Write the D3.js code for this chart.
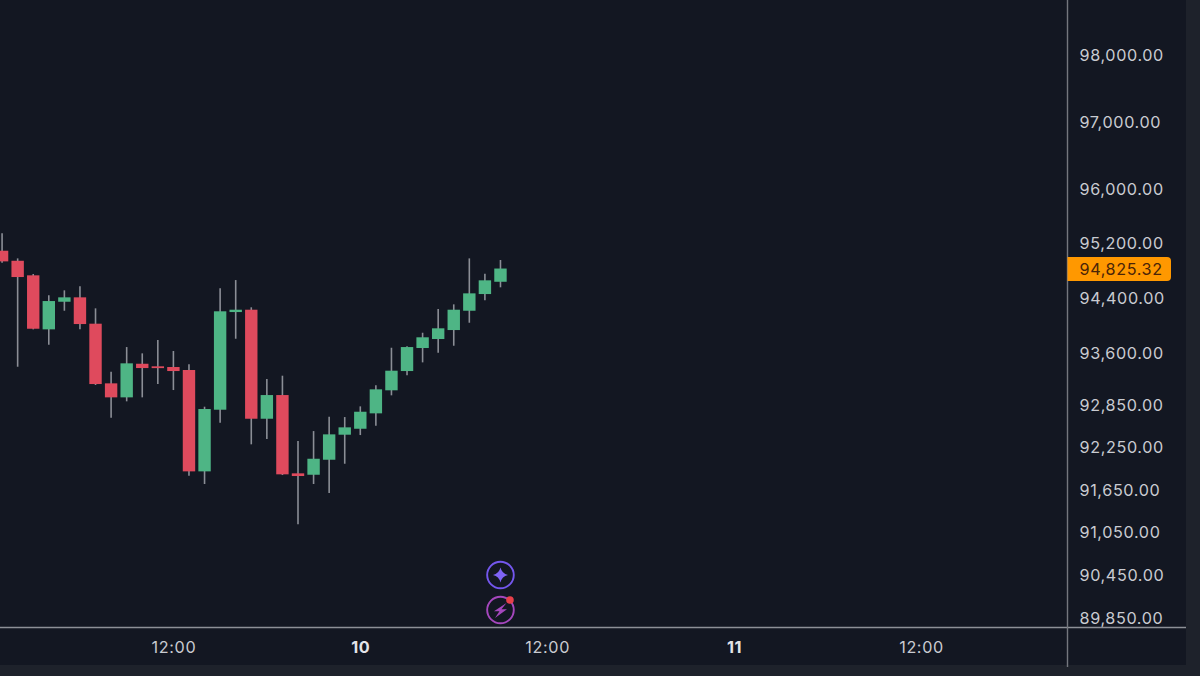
<!DOCTYPE html>
<html>
<head>
<meta charset="utf-8">
<script src="https://cdn.jsdelivr.net/npm/d3@7"></script>
<style>
  html, body { margin: 0; padding: 0; background: #1e222b; }
  svg { display: block; }
  text { font-family: Inter, "Noto Sans", sans-serif; }
</style>
</head>
<body>
<div id="chart"></div>
<script>
// hourly candles, 9 Jan 01:00 to 10 Jan 09:00
const firstHour = Date.UTC(2025, 0, 9, 1)
const opens = [95086, 94939, 94726, 93940, 94341, 94405, 94022, 93161, 92960, 93443, 93406, 93396, 93353, 91905, 92783, 94191, 94225, 92654, 92993, 91877, 91857, 92070, 92426, 92511, 92731, 93061, 93338, 93670, 93800, 93930, 94210, 94453, 94632]
const highs = [95341, 94974, 94745, 94434, 94507, 94565, 94245, 93328, 93684, 93593, 93785, 93627, 93435, 92826, 94536, 94657, 94260, 93223, 93271, 92336, 92478, 92683, 92678, 92831, 93132, 93674, 93694, 93891, 94235, 94303, 94974, 94749, 94950]
const lows = [94910, 93400, 93940, 93718, 94210, 93940, 93137, 92668, 92903, 92960, 93151, 93065, 91843, 91726, 92597, 93804, 92289, 92364, 91853, 91157, 91726, 91598, 92013, 92421, 92554, 92989, 93276, 93463, 93602, 93703, 94036, 94361, 94551]
const closes = [94930, 94701, 93949, 94351, 94405, 94017, 93151, 92960, 93449, 93381, 93381, 93338, 91905, 92793, 94202, 94225, 92654, 92993, 91863, 91839, 92084, 92431, 92531, 92754, 93075, 93343, 93684, 93825, 93955, 94225, 94463, 94653, 94825.32]

const priceTicks = [98000, 97000, 96000, 95200, 94400, 93600, 92850, 92250, 91650, 91050, 90450, 89850]
const lastPrice = 94825.32
const timeTicks = [Date.UTC(2025, 0, 9, 12), Date.UTC(2025, 0, 10), Date.UTC(2025, 0, 10, 12), Date.UTC(2025, 0, 11), Date.UTC(2025, 0, 11, 12)]
const timeLabels = ['12:00', '10', '12:00', '11', '12:00']

const width = 1200, height = 676
const plotRight = 1186, plotBottom = 665, axisX = 1067.5, axisY = 627.5

const candles = opens.map((open, i) => ({
  time: firstHour + i * 3600000,
  open, high: highs[i], low: lows[i], close: closes[i]
}))

const x = d3.scaleUtc()
  .domain([timeTicks[0], timeTicks[4]])
  .range([173.4, 921])

const y = d3.scaleLog()
  .domain([89850, 98000])
  .range([618, 55])

const svg = d3.select('#chart')
  .append('svg')
  .attr('width', width)
  .attr('height', height)

svg.append('rect')
  .attr('width', plotRight)
  .attr('height', plotBottom)
  .attr('fill', '#131722')

// Candles

const candle = svg.append('g')
  .selectAll('g')
  .data(candles)
  .enter()
  .append('g')

candle.append('line')
  .attr('x1', d => x(d.time))
  .attr('x2', d => x(d.time))
  .attr('y1', d => y(d.high))
  .attr('y2', d => y(d.low))
  .attr('stroke', '#8b8e96')
  .attr('stroke-width', 1.6)

candle.append('rect')
  .attr('x', d => x(d.time) - 6.2)
  .attr('y', d => y(Math.max(d.open, d.close)))
  .attr('width', 12.4)
  .attr('height', d => Math.max(1.8, Math.abs(y(d.open) - y(d.close))))
  .attr('fill', d => d.close >= d.open ? '#4EB585' : '#DF4A5D')

// Axes

const yAxis = d3.axisRight(y)
  .tickValues(priceTicks)
  .tickFormat(d3.format(',.2f'))
  .tickSize(0)
  .tickPadding(12)

const yAxisG = svg.append('g')
  .attr('transform', 'translate(' + axisX + ',0.7)')
  .call(yAxis)
yAxisG.select('.domain').remove()
yAxisG.selectAll('text')
  .attr('font-size', 16.2)
  .attr('fill', '#c9cbd1')
  .attr('font-family', 'Inter')
  .style('letter-spacing', '0.62px')

const xAxis = d3.axisBottom(x)
  .tickValues(timeTicks)
  .tickFormat((d, i) => timeLabels[i])
  .tickSize(0)
  .tickPadding(14)

const xAxisG = svg.append('g')
  .attr('transform', 'translate(0,' + axisY + ')')
  .call(xAxis)
xAxisG.select('.domain').remove()
xAxisG.selectAll('text')
  .attr('font-size', 16.2)
  .attr('font-family', 'Inter')
  .attr('fill', (d, i) => i % 2 ? '#e3e4e8' : '#c9cbd1')
  .attr('font-weight', (d, i) => i % 2 ? 700 : 400)
  .style('letter-spacing', '0.62px')

svg.append('line')
  .attr('x1', 0)
  .attr('x2', plotRight)
  .attr('y1', axisY)
  .attr('y2', axisY)
  .attr('stroke', '#8d9097')
  .attr('stroke-width', 1.4)

svg.append('line')
  .attr('x1', axisX)
  .attr('x2', axisX)
  .attr('y1', 0)
  .attr('y2', 667)
  .attr('stroke', '#74777e')
  .attr('stroke-width', 1.4)

// Last price badge

svg.append('path')
  .attr('d', 'M' + axisX + ',' + (y(lastPrice) - 11.5)
    + 'H1167a4,4 0 0 1 4,4V' + (y(lastPrice) + 8.5)
    + 'a4,4 0 0 1 -4,4H' + axisX + 'Z')
  .attr('fill', '#FF9800')

svg.append('text')
  .attr('x', axisX + 12)
  .attr('y', y(lastPrice) + 0.7)
  .attr('dy', '0.34em')
  .attr('font-size', 16.2)
  .attr('font-family', 'Inter')
  .attr('fill', '#4a2408')
  .style('letter-spacing', '0.62px')
  .text(d3.format(',.2f')(lastPrice))

// Marker icons under the last candle

const iconX = x(candles[candles.length - 1].time)

const star = svg.append('g')
  .attr('transform', 'translate(' + iconX + ',575)')
star.append('circle')
  .attr('r', 13.3)
  .attr('fill', 'none')
  .attr('stroke', '#7457ee')
  .attr('stroke-width', 1.9)
star.append('path')
  .attr('d', 'M0,-7.5Q1.4,-1.4 7.5,0Q1.4,1.4 0,7.5Q-1.4,1.4 -7.5,0Q-1.4,-1.4 0,-7.5Z')
  .attr('fill', '#7f63f5')

const bolt = svg.append('g')
  .attr('transform', 'translate(' + iconX + ',610)')
bolt.append('circle')
  .attr('r', 13.3)
  .attr('fill', 'none')
  .attr('stroke', '#a547bd')
  .attr('stroke-width', 1.9)
bolt.append('path')
  .attr('d', 'M6,-7L-6.5,1.2H-1L-5.5,8L6.5,-0.8H1Z')
  .attr('fill', '#a547bd')
bolt.append('circle')
  .attr('cx', 9.5)
  .attr('cy', -10)
  .attr('r', 3.8)
  .attr('fill', '#e8404a')
</script>
</body>
</html>
